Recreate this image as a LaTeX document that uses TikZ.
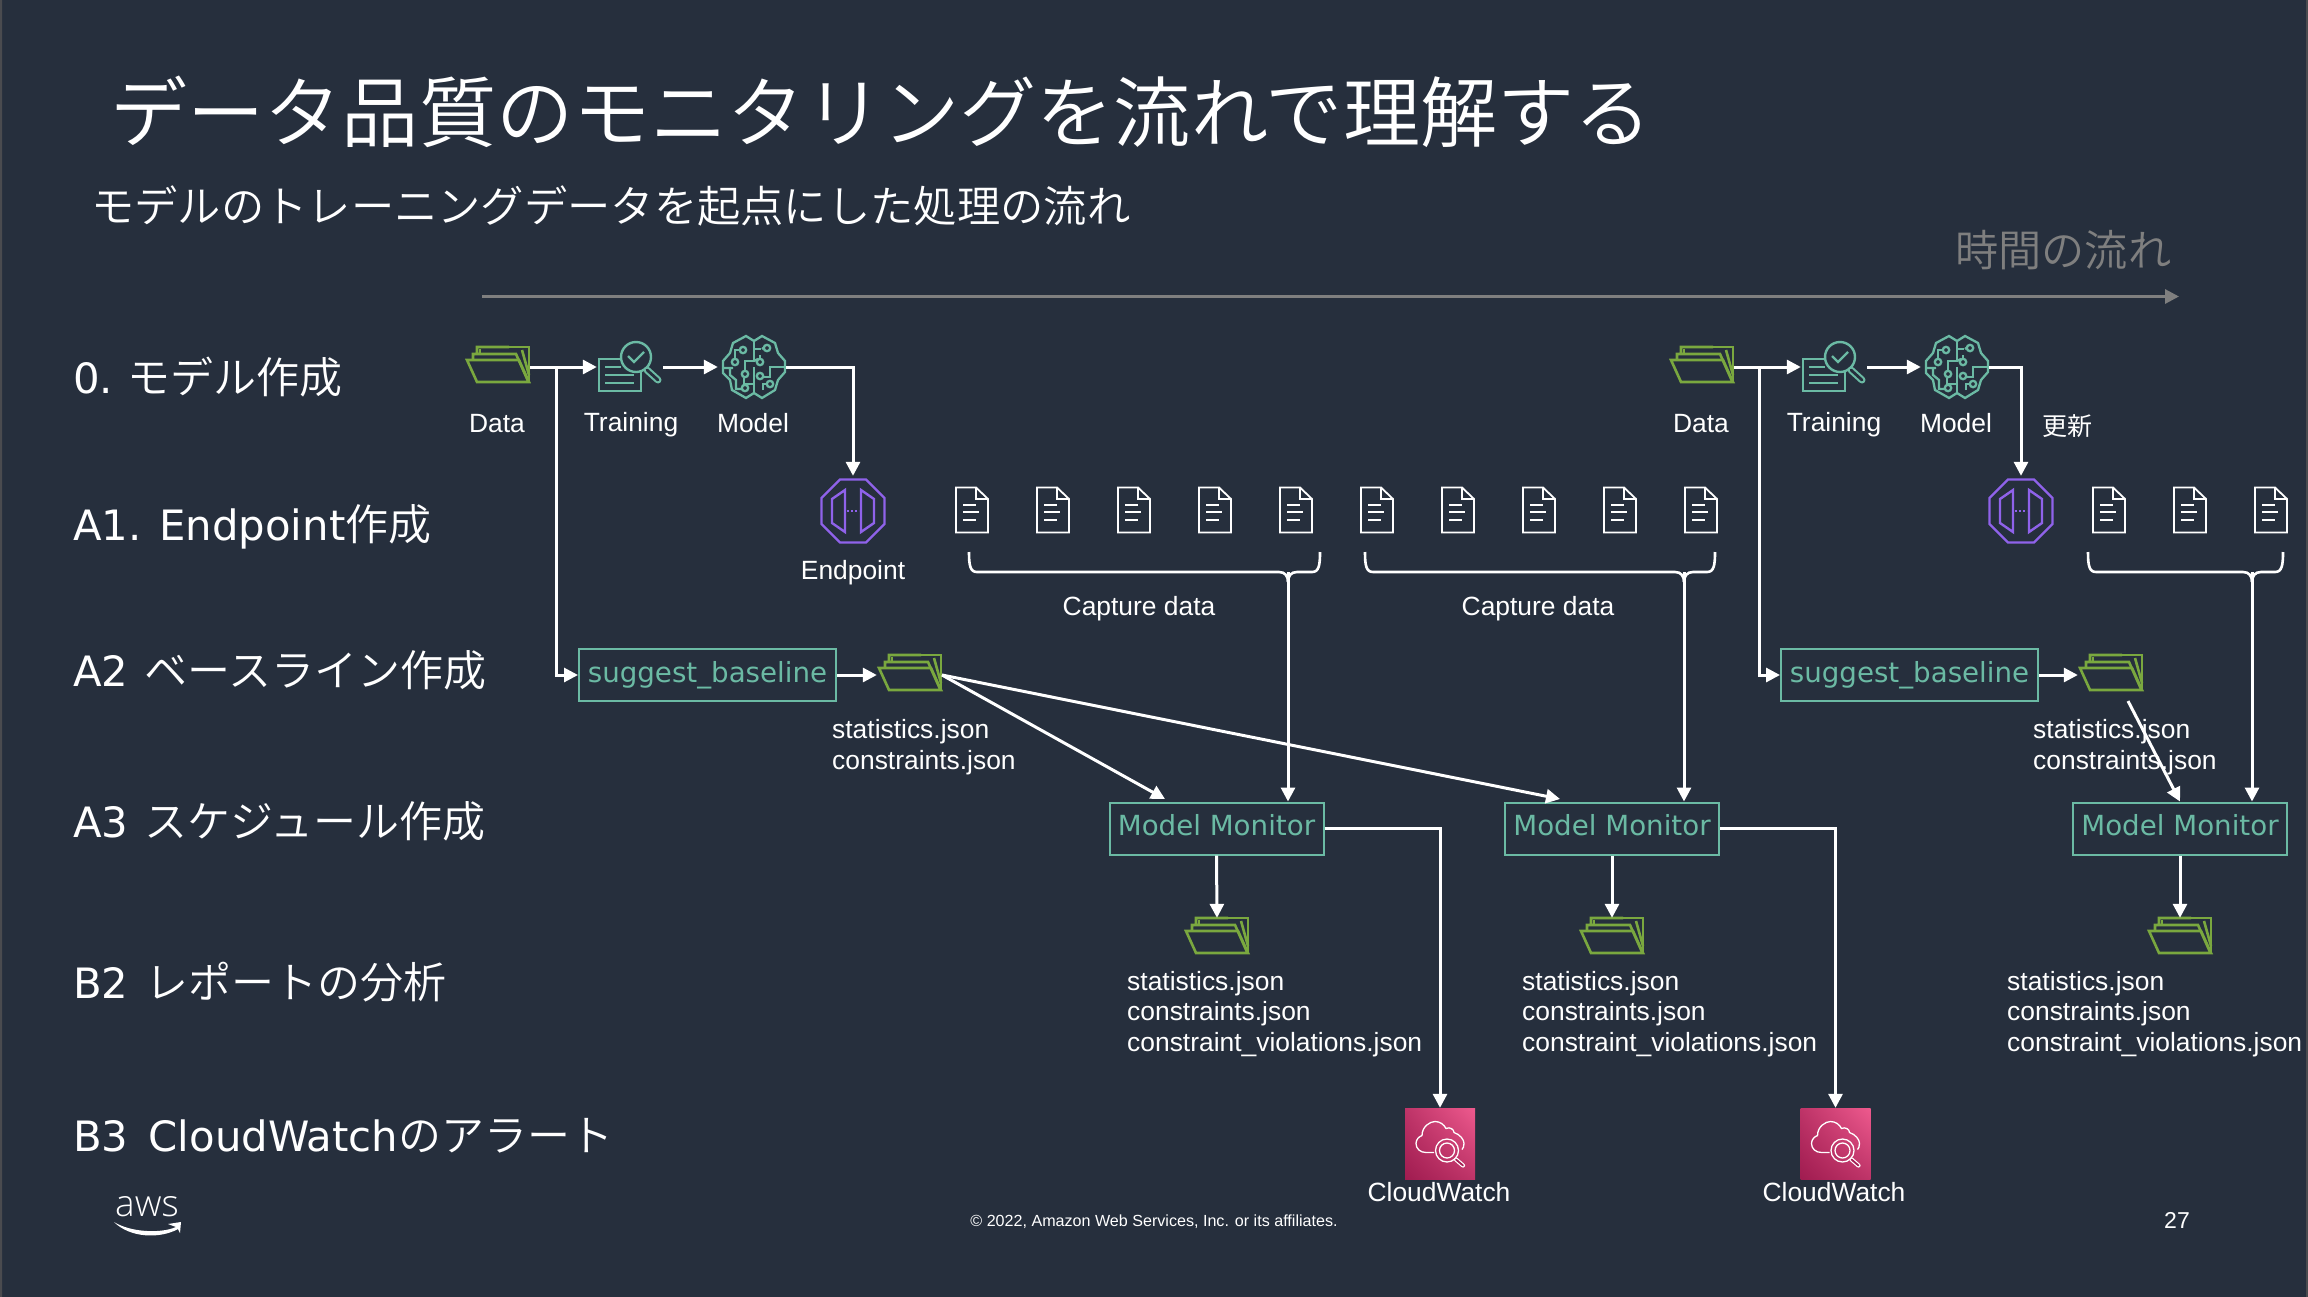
\documentclass[tikz,border=0pt]{standalone}
\usepackage{fontspec}
\usetikzlibrary{arrows.meta,calc,shadings}
\setmainfont{Liberation Sans}
\newfontfamily\cjk{Noto Sans CJK JP}
\newfontfamily\cjkl{Noto Sans CJK JP DemiLight}
\newfontfamily\dv{DejaVu Sans}
\newfontfamily\opn{Open Sans Light}
\definecolor{bgc}{HTML}{262F3D}
\definecolor{edgec}{HTML}{4A4B4F}
\definecolor{tealc}{HTML}{6BBAA4}
\definecolor{greenc}{HTML}{7AA83F}
\definecolor{purplec}{HTML}{8F62EA}
\definecolor{grayc}{HTML}{7F7F7F}
\definecolor{cwlow}{HTML}{A01C50}
\definecolor{cwmid}{HTML}{BE3468}
\definecolor{cwhigh}{HTML}{EE5A8E}
\newcommand{\lat}[1]{{\fontsize{41.8}{50}\selectfont\dv #1}}
\newcommand{\capbrace}[3]{%
  \draw[bracket] (#1,552) .. controls +(0,13) and +(-7,0) .. ({#1+8},572) -- ({#2-9},572) .. controls +(6,0) and +(0,-6) .. (#2,582);
  \draw[bracket] (#3,552) .. controls +(0,13) and +(7,0) .. ({#3-8},572) -- ({#2+9},572) .. controls +(-6,0) and +(0,-6) .. (#2,582);
}
\tikzset{
  flow/.style={draw=white,line width=3pt,-{Triangle[width=14pt,length=14pt]}},
  bracket/.style={draw=white,line width=2.6pt},
  txt/.style={text=white,inner sep=0pt,font=\fontsize{26.4}{30.5}\selectfont},
  rowlabel/.style={text=white,inner sep=0pt,anchor=west,font=\fontsize{43}{50}\selectfont\cjkl},
  mbox/.style={draw=tealc,line width=2pt,text=tealc,inner sep=0pt,font=\fontsize{27.7}{32}\selectfont\dv,text depth=7.5pt},
  sbox/.style={draw=tealc,line width=2pt,text=tealc,inner sep=0pt,font=\fontsize{27.7}{32}\selectfont\dv},
  iconbox/.style={inner sep=0pt,minimum width=#1,minimum height=40pt},
  folderic/.pic={
    \begin{scope}[draw=greenc,line width=2.6pt,line join=miter]
      \draw (-21,-13) -- (-21,-20) -- (11,-20) (-25,-7) -- (-25,-13) -- (18,-13) -- (30,14);
      \draw (-18,-13) -- (-18,-18);
      \draw (11,-20) -- (31,-20) -- (31,15);
      \draw (24,-17) -- (31,8);
      \draw (-31,-7) -- (21,-7) -- (31,15) -- (-21,15) -- cycle;
    \end{scope}
  },
  trainic/.pic={
    \begin{scope}[draw=tealc,line width=2.4pt]
      \draw (-8,-8) -- (-31,-8) -- (-31,24) -- (11,24) -- (11,5);
      \draw (-25,0) -- (-9,0) (-25,8) -- (4,8) (-25,16) -- (4,16);
      \draw (6,-10) circle (15);
      \draw (-2,-11) -- (4,-5) -- (14,-15);
      \draw[line width=7pt,line cap=round] (17,3) -- (28,13);
      \draw[draw=bgc,line width=2.8pt,line cap=round] (17,3) -- (28,13);
    \end{scope}
  },
  brainic/.pic={
    \begin{scope}[draw=tealc,line width=2.3pt]
      \draw (0,-26) -- (-8,-31) -- (-21,-24) -- (-24,-14) -- (-31,-6) -- (-31,6) -- (-24,13) -- (-22,23) -- (-8,31) -- (0,26) -- (8,31) -- (21,23) -- (24,13) -- (31,5) -- (31,-6) -- (24,-14) -- (21,-24) -- (8,-31) -- cycle;
      \draw (0,-26) -- (0,-6) -- (-9,-6) -- (-9,4);
      \draw (0,26) -- (0,8);
      \draw (-8,-17) -- (-19,-17) -- (-19,-8);
      \draw (-31,1) -- (-21,1) (-24,1) -- (-24,8) -- (-18,13) -- (-18,22) -- (-10,22);
      \draw (-10,11) -- (-10,17) -- (0,17);
      \draw (0,-18) -- (7,-18) (0,0) -- (0,26);
      \draw (8,-18) -- (12,-21);
      \draw (0,-6) -- (4,-8);
      \draw (31,0) -- (16,0) -- (16,10) -- (9,10);
      \draw (9,23) -- (9,17) -- (13,17);
      \draw (6,-12) -- (6,-8);
      \fill[bgc] (-11,-17) circle (3.2) (-19,-5) circle (3.2) (-9,7) circle (3.2) (-9,21) circle (3.2) (13,-19) circle (3.2) (6,-5) circle (3.2) (6,9) circle (3.2) (16,17) circle (3.2);
      \draw (-11,-17) circle (3.2) (-19,-5) circle (3.2) (-9,7) circle (3.2) (-9,21) circle (3.2) (13,-19) circle (3.2) (6,-5) circle (3.2) (6,9) circle (3.2) (16,17) circle (3.2);
    \end{scope}
  },
  endpointic/.pic={
    \begin{scope}[draw=purplec,line width=2.4pt]
      \draw (-13,-31.5) -- (13,-31.5) -- (31.5,-13) -- (31.5,13) -- (13,31.5) -- (-13,31.5) -- (-31.5,13) -- (-31.5,-13) -- cycle;
      \draw (-8,-21) -- (-8,21) -- (-21,12) -- (-21,-12) -- cycle;
      \draw (8,-21) -- (8,21) -- (21,12) -- (21,-12) -- cycle;
      \draw[line width=2pt,dash pattern=on 2pt off 2pt] (-6,0) -- (6,0);
    \end{scope}
  },
  docic/.pic={
    \begin{scope}[draw=white,line width=1.8pt]
      \draw (-16,-22.5) -- (4,-22.5) -- (16,-11) -- (16,22.5) -- (-16,22.5) -- cycle;
      \draw (4,-22.5) -- (4,-11) -- (16,-11);
      \draw (-9,-5) -- (4,-5) (-9,2) -- (7,2) (-9,10) -- (4,10);
    \end{scope}
  },
  cwic/.pic={
    \shade[lower left=cwlow,upper right=cwhigh,upper left=cwmid,lower right=cwmid] (-35,-35.5) rectangle (35,35.5);
    \begin{scope}[draw=white,line width=1.3pt]
      \draw (-6,9) -- (-14,9) .. controls (-20,9) and (-24,5) .. (-24,0) .. controls (-24,-4) and (-21,-7) .. (-18,-8) .. controls (-18,-17) and (-10,-22) .. (-5,-22) .. controls (0,-22) and (4,-19) .. (6,-15) .. controls (10,-17) and (14,-14) .. (14,-11) .. controls (20,-9) and (24,-4) .. (24,0) .. controls (24,3) and (23,5) .. (22,6);
      \draw (7,7) circle (11.5) (7,7) circle (7.5);
      \draw[line width=4.2pt,line cap=round] (16,16) -- (23,22);
      \draw[draw=cwlow!80!cwmid,line width=1.8pt,line cap=round] (16,16) -- (23,22);
    \end{scope}
  }
}
\begin{document}
\begin{tikzpicture}[x=1pt,y=-1pt]
\useasboundingbox (0,0) rectangle (2308,1296);
\fill[bgc] (-6,-6) rectangle (2314,1302);
\fill[edgec] (-6,-6) rectangle (2,1302) (2306,-6) rectangle (2314,1302);

% headings
\node[text=white,inner sep=0pt,anchor=west,font=\fontsize{77.2}{90}\selectfont\cjkl] (title) at (110,112) {データ品質のモニタリングを流れで理解する};
\node[text=white,inner sep=0pt,anchor=west,font=\fontsize{43.3}{50}\selectfont\cjkl] (subtitle) at (91,206) {モデルのトレーニングデータを起点にした処理の流れ};
\node[text=grayc,inner sep=0pt,anchor=west,font=\fontsize{43.2}{50}\selectfont\cjkl] (timelabel) at (1955,250) {時間の流れ};
\coordinate (timea) at (482,296.5);
\coordinate (timeb) at (2179,296.5);
\draw[draw=grayc,line width=3pt,-{Triangle[width=14pt,length=14pt]}] (timea) -- (timeb);

% row labels
\node[rowlabel] (r0) at (73,377) {\lat{0.}\hspace{14.5pt}モデル作成};
\node[rowlabel] (r1) at (73,527) {\lat{A1. Endpoint}作成};
\node[rowlabel] (r2) at (73,670) {\lat{A2} \hspace{7pt}ベースライン作成};
\node[rowlabel] (r3) at (73,821) {\lat{A3} \hspace{7pt}スケジュール作成};
\node[rowlabel] (r4) at (73,982) {\lat{B2} \hspace{7pt}レポートの分析};
\node[rowlabel] (r5) at (73,1136) {\lat{B3 \hspace{7pt}CloudWatch}のアラート};

% icons, first round
\node[iconbox=64pt] (data1) at (498,367) {}; \pic at (data1) {folderic};
\node[iconbox=66pt] (train1) at (630,367) {}; \pic at (train1) {trainic};
\node[iconbox=72pt] (brain1) at (754,367) {}; \pic at (brain1) {brainic};
\node[iconbox=64pt,minimum height=70pt] (ep1) at (853,511) {}; \pic at (ep1) {endpointic};
\node[iconbox=66pt] (fb1) at (910,675) {}; \pic at (fb1) {folderic};
\node[iconbox=66pt] (f1) at (1217,938) {}; \pic at (f1) {folderic};
\node[iconbox=66pt] (f2) at (1612,938) {}; \pic at (f2) {folderic};
\node[iconbox=66pt] (f3) at (2180,938) {}; \pic at (f3) {folderic};
% icons, second round
\node[iconbox=64pt] (data2) at (1702,367) {}; \pic at (data2) {folderic};
\node[iconbox=66pt] (train2) at (1834,367) {}; \pic at (train2) {trainic};
\node[iconbox=72pt] (brain2) at (1957,367) {}; \pic at (brain2) {brainic};
\node[iconbox=64pt,minimum height=70pt] (ep2) at (2021,511) {}; \pic at (ep2) {endpointic};
\node[iconbox=66pt] (fb2) at (2111,675) {}; \pic at (fb2) {folderic};

% capture documents
\foreach \i/\px in {1/972,2/1053,3/1134,4/1215,5/1296,6/1377,7/1458,8/1539,9/1620,10/1701,11/2109,12/2190,13/2271}{
  \pic at (\px,510) {docic};
}

% boxes
\node[sbox,minimum width=257pt,minimum height=52pt] (sb1) at (707.5,675) {suggest\_baseline};
\node[sbox,minimum width=257pt,minimum height=52pt] (sb2) at (1909.5,675) {suggest\_baseline};
\node[mbox,minimum width=214pt,minimum height=52pt] (mm1) at (1216.5,828.5) {Model Monitor};
\node[mbox,minimum width=214pt,minimum height=52pt] (mm2) at (1612,828.5) {Model Monitor};
\node[mbox,minimum width=214pt,minimum height=52pt] (mm3) at (2180,828.5) {Model Monitor};

% cloudwatch
\node[inner sep=0pt,minimum width=70pt,minimum height=71pt] (cw1) at (1440,1143.5) {}; \pic at (cw1) {cwic};
\node[inner sep=0pt,minimum width=70pt,minimum height=71pt] (cw2) at (1835.5,1143.5) {}; \pic at (cw2) {cwic};

% braces
\capbrace{969}{1288}{1320}
\capbrace{1365}{1684}{1715}
\capbrace{2088}{2252}{2283}
\coordinate (br1) at (1288,572);
\coordinate (br2) at (1684,572);
\coordinate (br3) at (2252,572);

% connectors
\coordinate (j1) at (556,367);
\coordinate (j2) at (1759,367);
\draw[flow] (data1.east) -- (train1.west);
\draw[flow] (train1.east) -- (brain1.west);
\draw[flow] (brain1.east) ++(-4,0) -| (ep1.north);
\draw[flow] (j1) |- (sb1.west);
\draw[flow] (sb1.east) -- (fb1.west);
\draw[flow] (data2.east) -- (train2.west);
\draw[flow] (train2.east) -- (brain2.west);
\draw[flow] (brain2.east) ++(-4,0) -| (ep2.north);
\draw[flow] (j2) |- (sb2.west);
\draw[flow] (sb2.east) -- (fb2.west);
\coordinate (o1) at (942,675);
\coordinate (in1) at (1165,799);
\coordinate (in2) at (1560,799);
\coordinate (o3) at (2128,701);
\draw[flow] (o1) -- (in1);
\draw[flow] (o1) -- (in2);
\draw[flow] (o3) -- (mm3.north);
\draw[flow] (br1) -- (br1 |- mm1.north);
\draw[flow] (br2) -- (br2 |- mm2.north);
\draw[flow] (br3) -- (br3 |- mm3.north);
\draw[flow] (mm1.south) -- (f1.north);
\draw[flow] (mm2.south) -- (f2.north);
\draw[flow] (mm3.south) -- (f3.north);
\draw[flow] (mm1.east) -| (cw1.north);
\draw[flow] (mm2.east) -| (cw2.north);

% small labels
\node[txt] (ld1) at (497,423.5) {Data};
\node[txt] (lt1) at (631,425) {Training};
\node[txt] (lm1) at (753,423.5) {Model};
\node[txt] (le1) at (853,573) {Endpoint};
\node[txt] (ld2) at (1701,423.5) {Data};
\node[txt] (lt2) at (1834,425) {Training};
\node[txt] (lm2) at (1956,423.5) {Model};
\node[txt,font=\fontsize{25}{30}\selectfont\cjk] (upd) at (2067,426) {更新};
\node[txt] (c1) at (1139,609) {Capture data};
\node[txt] (c2) at (1538,609) {Capture data};
\node[txt,anchor=west,align=left] (s1) at (832,747) {statistics.json\\constraints.json};
\node[txt,anchor=west,align=left] (s2) at (2033,747) {statistics.json\\constraints.json};
\node[txt,anchor=west,align=left] (v1) at (1127,1014) {statistics.json\\constraints.json\\constraint\_violations.json};
\node[txt,anchor=west,align=left] (v2) at (1522,1014) {statistics.json\\constraints.json\\constraint\_violations.json};
\node[txt,anchor=west,align=left] (v3) at (2007,1014) {statistics.json\\constraints.json\\constraint\_violations.json};
\node[txt] (cl1) at (1439,1192) {CloudWatch};
\node[txt] (cl2) at (1834,1192) {CloudWatch};

% footer
\node[txt,font=\fontsize{16.1}{18}\selectfont] (copy) at (1154,1222) {© 2022, Amazon Web Services, Inc. or its affiliates.};
\node[txt,font=\fontsize{23}{26}\selectfont] (page) at (2177,1220) {27};
\node[txt,font=\fontsize{37}{40}\selectfont\opn] (aws) at (147,1207) {aws};
\coordinate (sm1) at (114,1222);
\fill[white] (sm1) .. controls (130,1232) and (160,1234) .. (176,1227) -- (168,1224) -- (181,1222) -- (180,1233) -- (178,1229) .. controls (160,1239) and (130,1238) .. (114,1222) -- cycle;
\end{tikzpicture}
\end{document}
